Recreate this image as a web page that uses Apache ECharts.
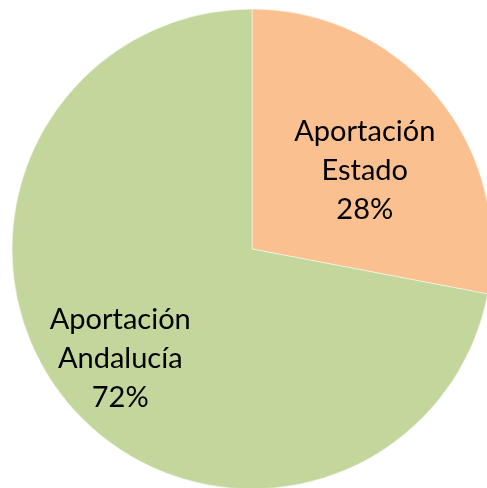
<!DOCTYPE html>
<html>
<head>
<meta charset="utf-8">
<script src="https://cdn.jsdelivr.net/npm/echarts@6/dist/echarts.min.js"></script>
<style>
  html, body {margin: 0; padding: 0; background: #fff;}
  #chart {width: 487px; height: 488px;}
</style>
</head>
<body>
<div id="chart"></div>
<script>
const categories = ['Aportación\nEstado', 'Aportación\nAndalucía'];
const values = [28, 72];
const colors = ['#FAC090', '#C3D69B'];
// nudges so labels sit where the original put them
const labelShift = [[18, 0], [-37, 31]];

const chart = echarts.init(document.getElementById('chart'));

chart.setOption({
  animation: false,
  series: [
    {
      type: 'pie',
      center: [252, 249],
      radius: 240,
      startAngle: 90,
      clockwise: true,
      silent: true,
      data: categories.map((name, i) => ({
        name: name,
        value: values[i],
        itemStyle: {color: colors[i]}
      })),
      itemStyle: {borderColor: '#fff', borderWidth: 0.5},
      label: {
        position: 'inside',
        formatter: '{b}\n{d}%',
        fontFamily: 'Lato',
        fontSize: 29,
        lineHeight: 39,
        color: '#000',
        align: 'center'
      },
      labelLine: {show: false},
      labelLayout: (params) => ({
        dx: labelShift[params.dataIndex][0],
        dy: labelShift[params.dataIndex][1]
      })
    }
  ]
});
</script>
</body>
</html>
